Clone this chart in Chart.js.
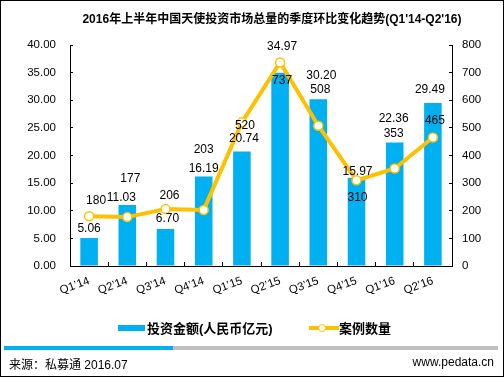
<!DOCTYPE html>
<html>
<head>
<meta charset="utf-8">
<script src="https://cdn.jsdelivr.net/npm/chart.js@4.4.0/dist/chart.umd.min.js"></script>
<style>
  html, body { margin: 0; padding: 0; background: #fff; }
  #wrap { position: relative; width: 504px; height: 377px; box-sizing: border-box; border: 1px solid #000; overflow: hidden;
          font-family: "Liberation Sans", Arial, "Noto Sans CJK SC", sans-serif; color: #000; }
  #chart { position: absolute; left: -1px; top: -1px; }
  .title { position: absolute; left: 0; width: 542px; top: 8px; text-align: center; font-weight: bold; font-size: 12px; }
  .legend { position: absolute; top: 317px; font-weight: bold; font-size: 13px; }
  .sw-bar { position: absolute; top: 324px; left: 117px; width: 27px; height: 6px; background: #00b0f0; }
  .sw-line { position: absolute; top: 325px; left: 308px; width: 30px; height: 4px; background: #ffc000; }
  .sw-dot { position: absolute; top: 323px; left: 317px; width: 6px; height: 6px; border: 1.5px solid #ffc000; border-radius: 50%; background: #fff; }
  .bar-blue { position: absolute; left: 3px; top: 345px; width: 169px; height: 4px; background: #00b0f0; }
  .bar-gray { position: absolute; left: 172px; top: 345px; width: 325px; height: 4px; background: #bfbfbf; }
  .foot { position: absolute; top: 354px; font-size: 12px; }
</style>
</head>
<body>
<div id="wrap">
  <canvas id="chart" width="504" height="377"></canvas>
  <div class="title">2016年上半年中国天使投资市场总量的季度环比变化趋势(Q1'14-Q2'16)</div>
  <div class="sw-bar"></div>
  <div class="legend" style="left:146px;">投资金额(人民币亿元)</div>
  <div class="sw-line"></div>
  <div class="sw-dot"></div>
  <div class="legend" style="left:338px;">案例数量</div>
  <div class="bar-blue"></div>
  <div class="bar-gray"></div>
  <div class="foot" style="left:8px;">来源：私募通 2016.07</div>
  <div class="foot" style="right:9px;">www.pedata.cn</div>
</div>
<script>
'use strict';

var quarters = ["Q1’14", "Q2’14", "Q3’14", "Q4’14", "Q1’15", "Q2’15", "Q3’15", "Q4’15", "Q1’16", "Q2’16"];
var amounts = [5.06, 11.03, 6.70, 16.19, 20.74, 34.97, 30.20, 15.97, 22.36, 29.49];
var cases = [180, 177, 206, 203, 520, 737, 508, 310, 353, 465];

// label nudges (px) from each mark, to copy where the original put them
var amountNudge = [[0, -9], [-6, -7], [2, -10], [0, -8], [2, -13], [2, -26], [3, -23], [1, -6], [-1, -24], [-3, -13]];
var caseNudge = [[7, -16], [3, -38], [4, -13], [0, -60], [3, 3], [2, 18], [2, -36], [1, 17], [-1, -35], [2, -17]];

var blue = '#00b0f0';
var gold = '#ffc000';
var font = '"Liberation Sans", Arial, sans-serif';

var valueLabels = {
    id: 'valueLabels',
    afterDatasetsDraw: function (chart) {
        var ctx = chart.ctx;
        ctx.save();
        ctx.font = '12px ' + font;
        ctx.fillStyle = '#000';
        ctx.textAlign = 'center';
        ctx.textBaseline = 'middle';
        chart.getDatasetMeta(0).data.forEach(function (el, i) {
            ctx.fillText(amounts[i].toFixed(2), el.x + amountNudge[i][0], el.y + amountNudge[i][1]);
        });
        chart.getDatasetMeta(1).data.forEach(function (el, i) {
            ctx.fillText(String(cases[i]), el.x + caseNudge[i][0], el.y + caseNudge[i][1]);
        });
        ctx.restore();
    }
};

var chart = new Chart(document.getElementById('chart'), {
    data: {
        labels: quarters,
        datasets: [
            {
                type: 'bar',
                label: '投资金额(人民币亿元)',
                data: amounts,
                backgroundColor: blue,
                barPercentage: 0.46,
                categoryPercentage: 1,
                yAxisID: 'y',
                order: 2
            },
            {
                type: 'line',
                label: '案例数量',
                data: cases,
                borderColor: gold,
                borderWidth: 4,
                pointRadius: 4.5,
                pointBorderWidth: 1.5,
                pointBackgroundColor: '#fff',
                pointBorderColor: gold,
                tension: 0,
                yAxisID: 'y1',
                order: 1
            }
        ]
    },
    options: {
        responsive: false,
        animation: false,
        events: [],
        layout: { padding: { top: 45, left: 0, right: 0, bottom: 0 } },
        plugins: { legend: { display: false }, tooltip: { enabled: false } },
        scales: {
            x: {
                offset: true,
                border: { color: '#000', width: 1 },
                grid: { offset: true, drawOnChartArea: false, drawTicks: true, tickLength: -4, color: '#000' },
                ticks: { color: '#000', font: { family: font, size: 11.5 }, maxRotation: 20, minRotation: 20, padding: 12 },
                afterFit: function (s) { s.height = 111; }
            },
            y: {
                position: 'left',
                min: 0, max: 40,
                border: { color: '#000', width: 1 },
                grid: { drawOnChartArea: false, drawTicks: true, tickLength: -3, color: '#000' },
                ticks: { stepSize: 5, color: '#000', font: { family: font, size: 11.5 }, padding: 17,
                         callback: function (v) { return v.toFixed(2); } },
                afterFit: function (s) { s.width = 70; }
            },
            y1: {
                position: 'right',
                min: 0, max: 800,
                border: { color: '#000', width: 1 },
                grid: { drawOnChartArea: false, drawTicks: true, tickLength: -3, color: '#000' },
                ticks: { stepSize: 100, color: '#000', font: { family: font, size: 11.5 }, padding: 13 },
                afterFit: function (s) { s.width = 52; }
            }
        }
    },
    plugins: [valueLabels]
});
</script>
</body>
</html>
